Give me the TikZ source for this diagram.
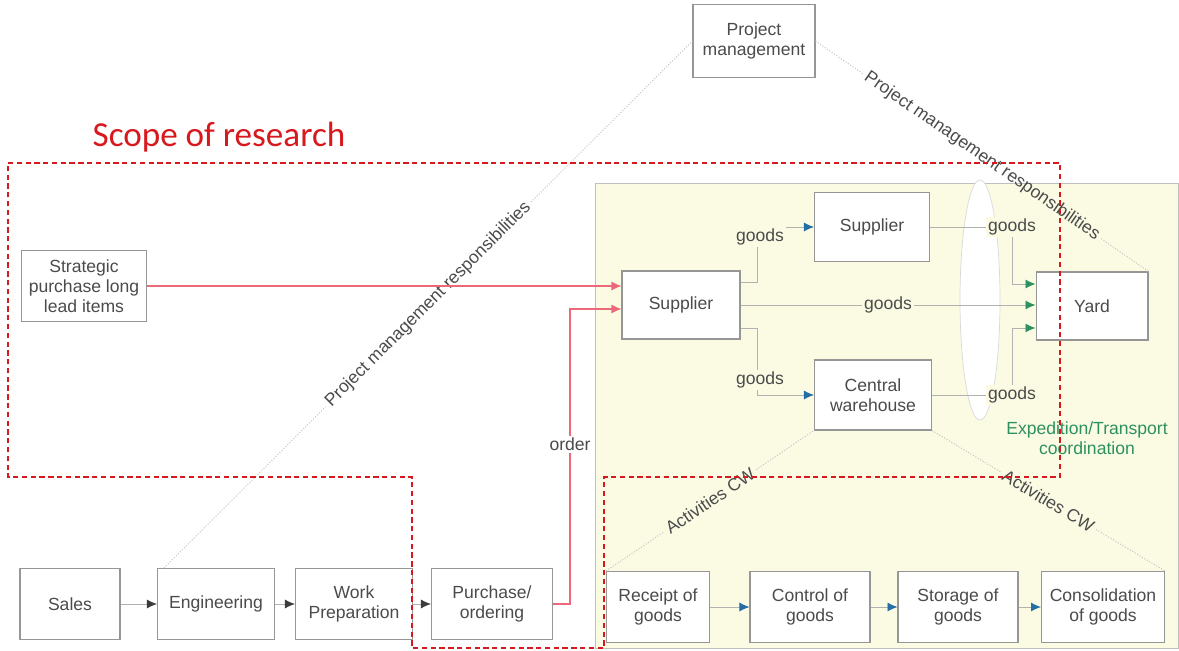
\documentclass[tikz,border=0pt]{standalone}
\usepackage{fontspec}
\setmainfont{Liberation Sans}
\newfontfamily\scopefont{Carlito}
\usetikzlibrary{arrows.meta, positioning, calc, shapes.geometric}

\definecolor{boxgray}{RGB}{150,150,150}
\definecolor{txtgray}{RGB}{75,75,75}
\definecolor{scopered}{RGB}{215,25,30}
\definecolor{ordred}{RGB}{235,105,120}
\definecolor{flowblue}{RGB}{35,110,165}
\definecolor{flowgreen}{RGB}{45,145,95}
\definecolor{areayellow}{RGB}{251,251,228}

\begin{document}
\begin{tikzpicture}[
    x=0.02cm, y=-0.02cm,
    font=\fontsize{10}{11.5}\selectfont,
    text=txtgray,
    box/.style={draw=boxgray, line width=0.6pt, fill=white, align=center, minimum height=1.42cm, inner sep=2pt},
    flow/.style={draw=gray!60, line width=0.5pt},
    pmline/.style={draw=gray!45, densely dotted, line width=0.6pt},
    resp_text/.style={sloped, inner sep=2pt},
    darrow/.style={flow, -{Latex[length=2mm, width=1.8mm, color=txtgray!80!black]}},
    barrow/.style={flow, -{Latex[length=2mm, width=1.8mm, color=flowblue]}},
    garrow/.style={flow, -{Latex[length=2mm, width=1.8mm, color=flowgreen]}},
    rarrow/.style={draw=ordred, line width=0.7pt, -{Latex[length=2mm, width=1.8mm]}},
    goods_text/.style={fill=areayellow, inner sep=1pt}
]
    \useasboundingbox (0,0) rectangle (1179,651);

    % Expedition area
    \draw[fill=areayellow, draw=gray!50] (595,183) rectangle (1178,648);
    \draw[fill=white, draw=gray!30] (980,300) ellipse [x radius=20, y radius=120];

    % Nodes
    \node[box, minimum width=2.44cm, minimum height=1.46cm] (pm) at (754,41) {Project\\management};
    \node[box, minimum width=2.5cm] (strat) at (84,286) {Strategic\\purchase long\\lead items};

    \node[box, minimum width=2.36cm, minimum height=1.36cm] (sup) at (681,305) {Supplier};
    \node[box, minimum width=2.3cm, minimum height=1.38cm] (supt) at (872,227) {Supplier};
    \node[box, minimum width=2.34cm, minimum height=1.4cm] (cw) at (873,395) {Central\\warehouse};
    \node[box, minimum width=2.24cm, minimum height=1.36cm] (yard) at (1092,306) {Yard};

    \node[box, minimum width=2.0cm] (sales) at (70,604) {Sales};
    \node[box, minimum width=2.34cm] (eng) at (216,604) {Engineering};
    \node[box, minimum width=2.34cm] (wp) at (354,604) {Work\\Preparation};
    \node[box, minimum width=2.42cm] (pur) at (492,604) {Purchase/\\ordering};

    \node[box, minimum width=2.06cm] (rec) at (658,607) {Receipt of\\goods};
    \node[box, minimum width=2.4cm] (ctrl) at (810,607) {Control of\\goods};
    \node[box, minimum width=2.4cm] (stor) at (958,607) {Storage of\\goods};
    \node[box, minimum width=2.46cm] (cons) at (1103,607) {Consolidation\\of goods};

    \node[text=flowgreen, align=center] (exped) at (1087,438) {Expedition/Transport\\coordination};
    \node[text=scopered, font=\scopefont\fontsize{20}{22}\selectfont] (scope) at (219,137) {Scope of research};

    % Project management responsibilities
    \path ([xshift=0.14cm]eng.north west) -- node[resp_text] (pmresp_l) {Project management responsibilities} (pm.west);
    \draw[pmline] ([xshift=0.14cm]eng.north west) -- (pmresp_l.west);
    \draw[pmline] (pmresp_l.east) -- (pm.west);
    \path (pm.east) -- node[resp_text] (pmresp_r) {Project management responsibilities} (yard.north east);
    \draw[pmline] (pm.east) -- (pmresp_r.west);
    \draw[pmline] (pmresp_r.east) -- (yard.north east);

    % Activities of the central warehouse
    \path (rec.north west) -- node[resp_text] (act_l) {Activities CW} (cw.south west);
    \draw[pmline] (rec.north west) -- (act_l.west);
    \draw[pmline] (act_l.east) -- (cw.south west);
    \path (cw.south east) -- node[resp_text] (act_r) {Activities CW} (cons.north east);
    \draw[pmline] (cw.south east) -- (act_r.west);
    \draw[pmline] (act_r.east) -- (cons.north east);

    % Order flow
    \draw[rarrow] (strat.east) -- (strat.east -| sup.west);
    \draw[rarrow] (pur.east) -- ++(17,0) |- node[pos=0.27, fill=white, inner sep=1pt] {order} ([yshift=-0.08cm]sup.west);

    % Goods flow
    \draw[barrow] ([yshift=0.46cm]sup.east) -- ++(17,0) |- node[pos=0.5, goods_text, xshift=0.05cm, yshift=-0.2cm] {goods} (supt.west);
    \draw[barrow] ([yshift=-0.46cm]sup.east) -- ++(17,0) |- node[pos=0.5, goods_text, xshift=0.05cm, yshift=0.3cm] {goods} (cw.west);
    \draw[garrow] (sup.east) -- node[goods_text] {goods} (sup.east -| yard.west);
    \draw[garrow] (supt.east) -- ++(82,0) node[goods_text] {goods} |- ([yshift=0.44cm]yard.west);
    \draw[garrow] (cw.east) -- ++(80,0) node[goods_text] {goods} |- ([yshift=-0.44cm]yard.west);

    % Process chains
    \draw[darrow] (sales) -- (eng);
    \draw[darrow] (eng) -- (wp);
    \draw[darrow] (wp) -- (pur);
    \draw[barrow] (rec) -- (ctrl);
    \draw[barrow] (ctrl) -- (stor);
    \draw[barrow] (stor) -- (cons);

    % Scope of research
    \draw[scopered, line width=1.3pt, dash pattern=on 3pt off 2pt]
        (8,163) -- (1060,163) -- (1060,477) -- (604,477) -- (604,648)
        -- (412,648) -- (412,477) -- (8,477) -- cycle;

\end{tikzpicture}
\end{document}
